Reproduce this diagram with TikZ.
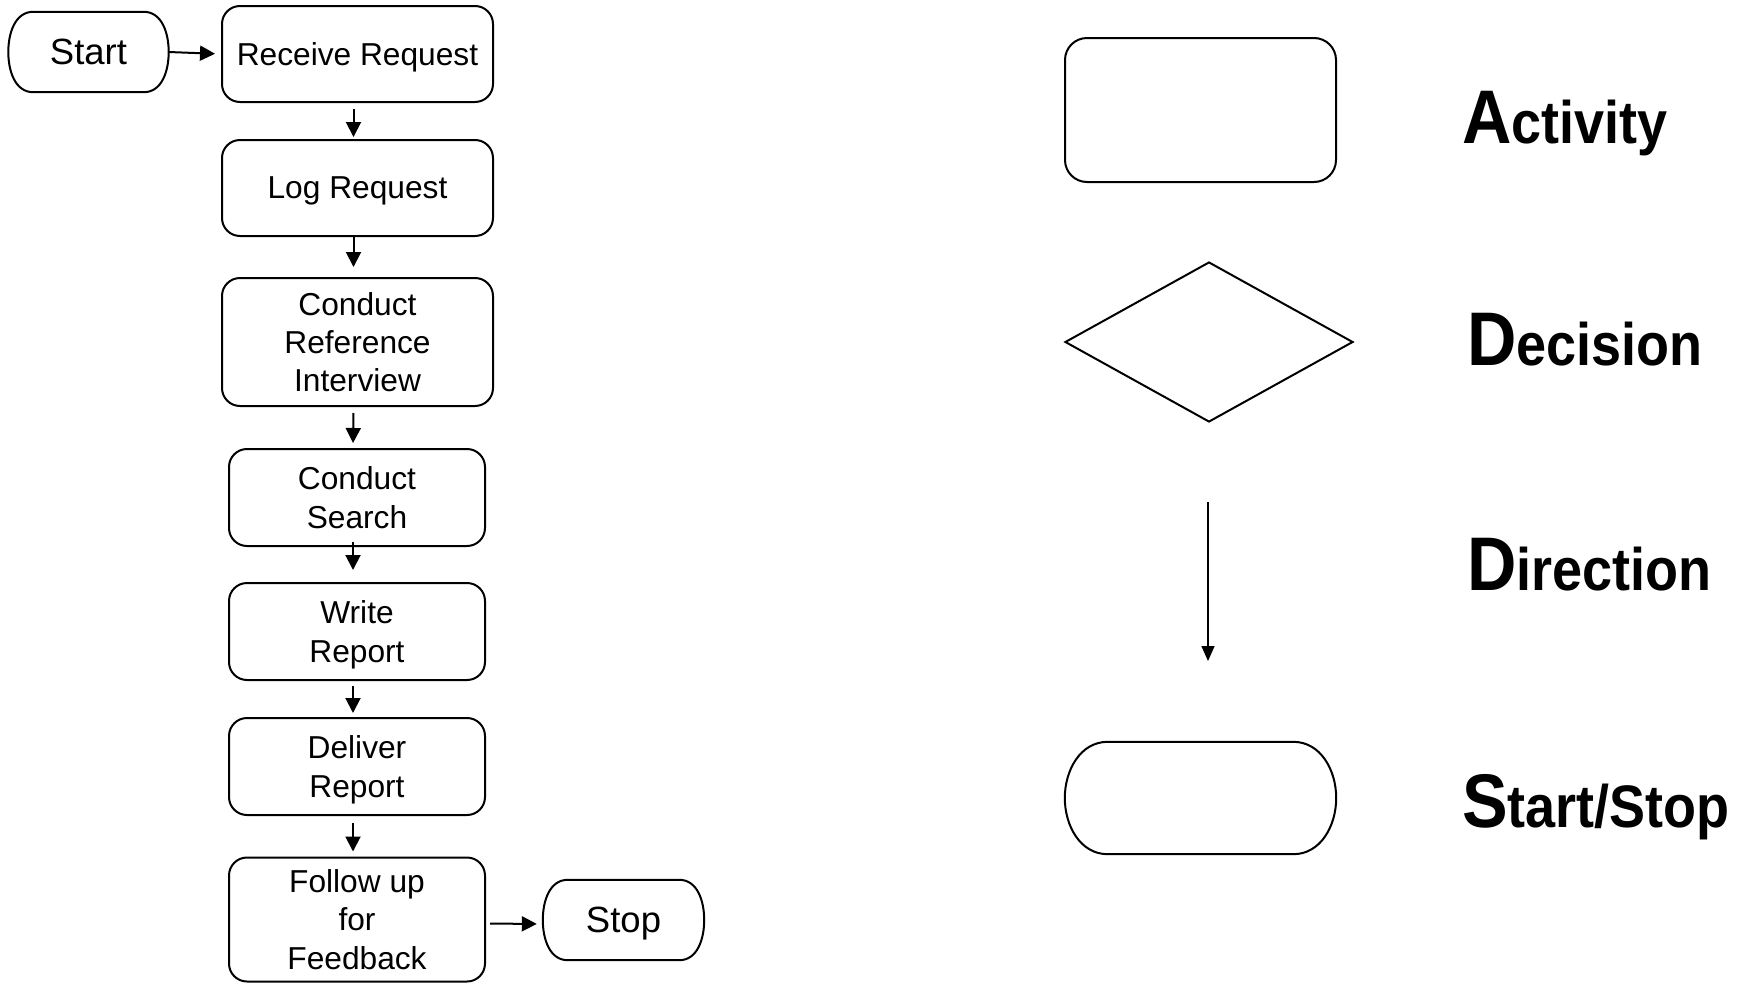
\documentclass[tikz,border=0pt]{standalone}
\usepackage{fontspec}
\setmainfont{Liberation Sans}
\newfontfamily\legendfont{Liberation Sans}[FakeStretch=0.9]
\usetikzlibrary{arrows.meta,shapes.geometric}

% outline of a terminal (start/stop) node: flat top and bottom, bulging sides
\newcommand\termoutline[2]{%
  \draw[shapeline] ([xshift=#2]#1.north west) -- ([xshift=-#2]#1.north east)
    to[out=0,in=90] (#1.east) to[out=-90,in=0] ([xshift=-#2]#1.south east)
    -- ([xshift=#2]#1.south west) to[out=180,in=-90] (#1.west)
    to[out=90,in=180] ([xshift=#2]#1.north west) -- cycle;}

\begin{document}
\begin{tikzpicture}[x=1pt,y=-1pt,
  shapeline/.style={line width=2pt},
  box/.style={draw, shapeline, rounded corners=18pt, inner sep=0pt, align=center,
    text depth=0pt, font=\fontsize{31.7}{38.4}\selectfont},
  widebox/.style={box, minimum width=271pt},
  narrowbox/.style={box, minimum width=256pt},
  termnode/.style={inner sep=0pt, minimum width=160pt, minimum height=80pt,
    text depth=0pt, font=\fontsize{36.5}{44}\selectfont},
  flow/.style={line width=2pt, -{Triangle[length=15pt,width=15pt]}},
  legendlabel/.style={anchor=base west, inner sep=0pt, font=\legendfont\bfseries},
]
\useasboundingbox (0,0) rectangle (1746,983);

% ---- process flow ----
\node[termnode] (start) at (88.5,52) {Start};
\termoutline{start}{25pt}
\node[widebox, minimum height=96pt] (recv) at (357.5,54) {Receive Request};
\node[widebox, minimum height=96pt] (log) at (357.5,188) {Log Request};
\node[widebox, minimum height=128pt] (interview) at (357.5,342) {Conduct\\Reference\\Interview};
\node[narrowbox, minimum height=97pt] (search) at (357,497.5) {Conduct\\Search};
\node[narrowbox, minimum height=97pt] (write) at (357,631.5) {Write\\Report};
\node[narrowbox, minimum height=97pt] (deliver) at (357,766.5) {Deliver\\Report};
\node[narrowbox, minimum height=124pt] (follow) at (357,919.5) {Follow up\\for\\Feedback};
\node[termnode, minimum width=161pt] (stop) at (623.5,920) {Stop};
\termoutline{stop}{25pt}

\draw[flow, shorten >=6pt] (start.east) -- (recv.west);
\draw[flow, shorten <=6pt, shorten >=2pt] ([xshift=-4pt]recv.south) -- ([xshift=-4pt]log.north);
\draw[flow, shorten >=10pt] ([xshift=-4pt]log.south) -- ([xshift=-4pt]interview.north);
\draw[flow, shorten <=6pt, shorten >=5pt] ([xshift=-4pt]interview.south) -- ([xshift=-4pt]search.north);
\draw[flow, shorten <=-5pt, shorten >=12pt] ([xshift=-4pt]search.south) -- ([xshift=-4pt]write.north);
\draw[flow, shorten <=5pt, shorten >=4pt] ([xshift=-4pt]write.south) -- ([xshift=-4pt]deliver.north);
\draw[flow, shorten <=7pt, shorten >=5pt] ([xshift=-4pt]deliver.south) -- ([xshift=-4pt]follow.north);
\draw[flow, shorten <=4pt, shorten >=6pt] ([yshift=-4pt]follow.east) -- ([yshift=-4pt]stop.west);

% ---- legend ----
\node[draw, shapeline, rounded corners=22pt, inner sep=0pt,
  minimum width=271pt, minimum height=144pt] (legact) at (1200.5,110) {};
\node[diamond, draw, shapeline, inner sep=0pt,
  minimum width=288pt, minimum height=160pt] (legdec) at (1209,342) {};
\coordinate (dirtop) at (1208,502);
\coordinate (dirtip) at (1208,661);
\draw[line width=1.6pt, -{Triangle[length=15pt,width=13pt]}] (dirtop) -- (dirtip);
\node[inner sep=0pt, minimum width=271pt, minimum height=112pt] (legterm) at (1200.5,798) {};
\termoutline{legterm}{43pt}

\node[legendlabel] (tact) at (1462,143)
  {{\fontsize{76}{80}\selectfont A}{\fontsize{60}{64}\selectfont ctivity}};
\node[legendlabel] (tdec) at (1467,365)
  {{\fontsize{76}{80}\selectfont D}{\fontsize{60}{64}\selectfont ecision}};
\node[legendlabel] (tdir) at (1467,590)
  {{\fontsize{76}{80}\selectfont D}{\fontsize{60}{64}\selectfont irection}};
\node[legendlabel] (tterm) at (1462,827)
  {{\fontsize{76}{80}\selectfont S}{\fontsize{60}{64}\selectfont tart/Stop}};
\end{tikzpicture}
\end{document}
